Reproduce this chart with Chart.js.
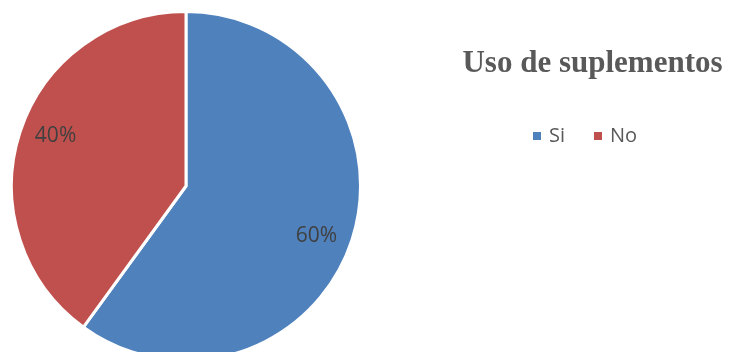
<!DOCTYPE html>
<html>
<head>
<meta charset="utf-8">
<script src="https://cdn.jsdelivr.net/npm/chart.js@4/dist/chart.umd.min.js"></script>
<style>
  html, body { margin: 0; padding: 0; background: #fff; width: 734px; height: 352px; overflow: hidden; }
  #wrap { position: relative; width: 734px; height: 352px; overflow: hidden; }
  #pie { position: absolute; left: 0; top: 0; }
  #title {
    position: absolute; left: 440px; width: 305px; top: 43px;
    text-align: center; white-space: nowrap;
    font-family: "Liberation Serif", "Times New Roman", serif;
    font-weight: bold; font-size: 31px; line-height: 38px; color: #595959;
  }
  #legend {
    position: absolute; left: 533px; top: 122px; height: 26px;
    font-family: "Open Sans", sans-serif; font-size: 20px; line-height: 26px; color: #595959;
    white-space: nowrap;
  }
  #legend span.item { display: inline-block; margin-right: 29px; }
  #legend span.box { display: inline-block; width: 8px; height: 8px; margin-right: 8px; vertical-align: 2px; }
</style>
</head>
<body>
<div id="wrap">
  <canvas id="pie" width="734" height="372"></canvas>
  <div id="title"></div>
  <div id="legend"></div>
</div>
<script>
// Survey answers: share of respondents using supplements
const chartTitle = "Uso de suplementos";
const categories = ["Si", "No"];
const percentages = [60, 40];
const sliceColors = ["#4F81BD", "#C0504D"];

document.getElementById("title").textContent = chartTitle;

// Legend entries built from the same categories and colours
const legendEl = document.getElementById("legend");
categories.forEach((name, i) => {
  const item = document.createElement("span");
  item.className = "item";
  const box = document.createElement("span");
  box.className = "box";
  box.style.background = sliceColors[i];
  item.appendChild(box);
  item.appendChild(document.createTextNode(name));
  legendEl.appendChild(item);
});

// Percent labels placed inside each slice along its middle angle
const sliceLabels = {
  id: "sliceLabels",
  afterDatasetsDraw(chart) {
    const ctx = chart.ctx;
    const meta = chart.getDatasetMeta(0);
    ctx.save();
    ctx.font = "21px 'Open Sans', sans-serif";
    ctx.fillStyle = "#404040";
    ctx.textAlign = "center";
    ctx.textBaseline = "middle";
    meta.data.forEach((arc, i) => {
      const p = arc.getProps(["x", "y", "startAngle", "endAngle", "outerRadius"], true);
      const mid = (p.startAngle + p.endAngle) / 2 + 0.05;
      const r = p.outerRadius * 0.8;
      ctx.fillText(percentages[i] + "%", p.x + Math.cos(mid) * r, p.y + Math.sin(mid) * r);
    });
    ctx.restore();
  }
};

new Chart(document.getElementById("pie"), {
  type: "pie",
  data: {
    labels: categories,
    datasets: [{
      data: percentages,
      backgroundColor: sliceColors,
      borderColor: "#FFFFFF",
      borderWidth: 3
    }]
  },
  options: {
    responsive: false,
    animation: false,
    radius: 174.5,
    layout: { padding: { left: 0, top: 0, right: 362, bottom: 0 } },
    plugins: {
      legend: { display: false },
      title: { display: false },
      tooltip: { enabled: false }
    }
  },
  plugins: [sliceLabels]
});
</script>
</body>
</html>
